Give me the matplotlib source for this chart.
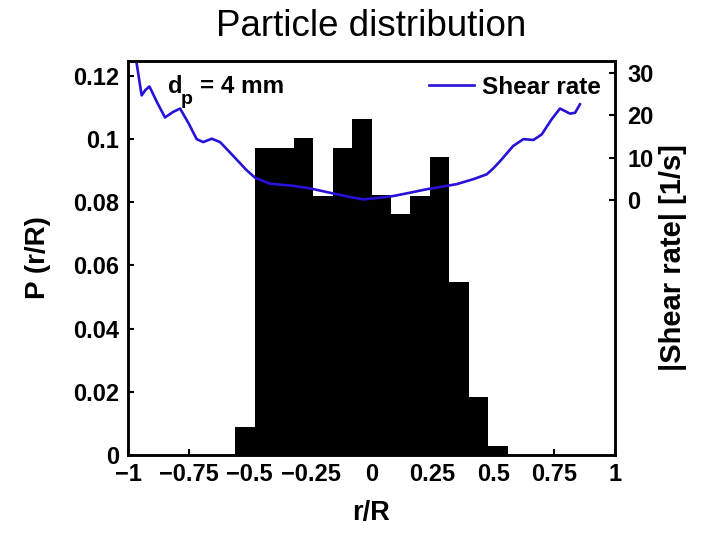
import matplotlib
matplotlib.use("Agg")
import matplotlib.pyplot as plt
import numpy as np

plt.rcParams['font.family'] = ['Liberation Sans', 'DejaVu Sans']

# Histogram data: bin edges (r/R) and probabilities
bin_edges = [-0.56, -0.48, -0.40, -0.32, -0.24, -0.16, -0.08, 0.0,
             0.08, 0.16, 0.24, 0.32, 0.40, 0.48, 0.56]
probabilities = [0.0090, 0.0972, 0.0972, 0.1002, 0.0821, 0.0972, 0.1062,
                 0.0823, 0.0762, 0.0820, 0.0942, 0.0548, 0.0183, 0.0030]

# Shear rate profile
shear_r = [-0.972, -0.944, -0.928, -0.912, -0.880, -0.848, -0.815, -0.786,
           -0.750, -0.718, -0.691, -0.656, -0.622, -0.590, -0.554, -0.515,
           -0.478, -0.417, -0.321, -0.253, -0.157, -0.100, -0.034, 0.035,
           0.090, 0.160, 0.227, 0.290, 0.350, 0.420, 0.473, 0.500, 0.528,
           0.582, 0.624, 0.665, 0.699, 0.740, 0.774, 0.795, 0.815, 0.836, 0.856]
shear_rate = [35.0, 24.7, 26.0, 26.8, 23.0, 19.5, 20.8, 21.6,
              18.0, 14.4, 13.7, 14.5, 13.7, 11.8, 9.6, 7.2,
              5.3, 3.9, 3.4, 2.8, 1.6, 0.9, 0.2, 0.6,
              1.0, 1.8, 2.6, 3.2, 3.8, 5.0, 6.1, 7.5, 9.2,
              12.8, 14.4, 14.2, 15.5, 19.1, 21.6, 21.0, 20.4, 20.6, 22.6]

x_ticks = [-1, -0.75, -0.5, -0.25, 0, 0.25, 0.5, 0.75, 1]
x_ticklabels = ['\u22121', '\u22120.75', '\u22120.5', '\u22120.25', '0',
                '0.25', '0.5', '0.75', '1']
y_ticks = [0, 0.02, 0.04, 0.06, 0.08, 0.1, 0.12]
y_ticklabels = ['0', '0.02', '0.04', '0.06', '0.08', '0.1', '0.12']
y2_ticks = [0, 10, 20, 30]

TICK_FS = 17
LABEL_FS = 19.5

fig = plt.figure(figsize=(7.06, 5.34), dpi=100)
ax = fig.add_axes([128/706, 1 - 455/534, (615-128)/706, (455-61)/534])

edges = np.array(bin_edges)
ax.bar(edges[:-1], probabilities, width=np.diff(edges), align='edge',
       color='black', edgecolor='black', linewidth=0)

ax.set_xlim(-1, 1)
ax.set_ylim(0, 0.1247)
ax.set_xticks(x_ticks)
ax.set_xticklabels(x_ticklabels)
ax.set_yticks(y_ticks)
ax.set_yticklabels(y_ticklabels)
ax.tick_params(direction='in', length=4, width=1.5, labelsize=TICK_FS)
ax.tick_params(axis='y', pad=6.5)
ax.tick_params(axis='x', pad=6)
for lab in ax.get_xticklabels() + ax.get_yticklabels():
    lab.set_fontweight('bold')
for sp in ax.spines.values():
    sp.set_linewidth(1.8)

ax.set_xlabel('r/R', fontsize=LABEL_FS, fontweight='bold', labelpad=10)
ax.set_ylabel('P (r/R)', fontsize=LABEL_FS + 0.5, fontweight='bold', labelpad=16)
ax.set_title('Particle distribution', fontsize=26.5, pad=18)

# d_p = 4 mm annotation (subscript drawn as its own text)
ax.text(0.082, 0.919, 'd', transform=ax.transAxes, fontsize=TICK_FS,
        fontweight='bold', va='baseline', ha='left')
ax.text(0.108, 0.890, 'p', transform=ax.transAxes, fontsize=14,
        fontweight='bold', va='baseline', ha='left')
ax.text(0.148, 0.919, '= 4 mm', transform=ax.transAxes, fontsize=TICK_FS + 0.5,
        fontweight='bold', va='baseline', ha='left')

ax2 = ax.twinx()
ax2.plot(shear_r, shear_rate, color='#2612d8', linewidth=1.9, label='Shear rate')
ax2.set_ylim(-60, 32.8)
ax2.set_yticks(y2_ticks)
ax2.tick_params(direction='in', length=4, width=1.5, labelsize=TICK_FS, pad=9)
for lab in ax2.get_yticklabels():
    lab.set_fontweight('bold')
for sp in ax2.spines.values():
    sp.set_linewidth(1.8)
ax2.set_ylabel('|Shear rate| [1/s]', fontsize=21, fontweight='bold', labelpad=4)
leg = ax2.legend(loc='upper right', bbox_to_anchor=(1, 1), frameon=False,
                 prop={'size': 17.5, 'weight': 'bold'},
                 handlelength=1.85, handletextpad=0.3, borderaxespad=0.3,
                 borderpad=0.3)

fig.savefig('out.png', dpi=100)
